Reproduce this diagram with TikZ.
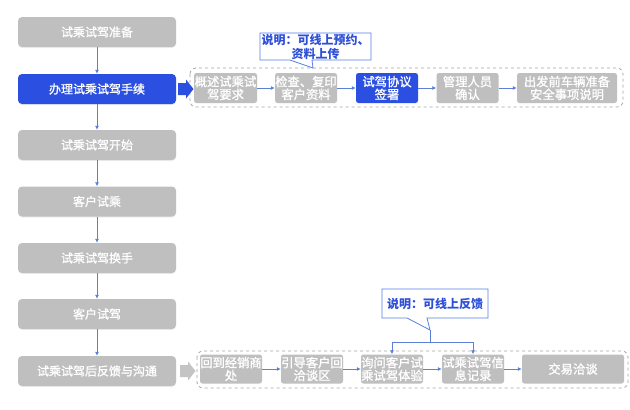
\documentclass[tikz,border=0pt]{standalone}
\usepackage{fontspec}
\setmainfont{Noto Sans CJK SC}
\newfontfamily\boxfont[FakeBold=1.2]{Noto Sans CJK SC}
\usetikzlibrary{arrows.meta,shadows}
\definecolor{boxgrey}{HTML}{BFBFBF}
\definecolor{boxblue}{HTML}{2B4FE0}
\definecolor{linkblue}{HTML}{5B80D6}
\definecolor{noteblue}{HTML}{2E4FD8}
\definecolor{noteedge}{HTML}{5A7FE6}
\definecolor{dashgrey}{HTML}{A6A6A6}
\definecolor{arrowgrey}{HTML}{C4C4C4}
\tikzset{
  lbox/.style={rectangle, rounded corners=4pt, fill=boxgrey, text=white,
    minimum width=158pt, minimum height=30pt, inner sep=0pt,
    font=\boxfont\fontsize{12pt}{13pt}\selectfont,
    drop shadow={shadow xshift=0pt, shadow yshift=-1pt, opacity=0.12}},
  ibox/.style={rectangle, rounded corners=2.5pt, fill=boxgrey, text=white,
    minimum height=30pt, inner sep=0pt, align=center,
    font=\boxfont\fontsize{12.3pt}{12.8pt}\selectfont},
  arr/.style={draw=linkblue, line width=0.8pt, -{Latex[length=4pt,width=4pt]}},
  link/.style={draw=linkblue, line width=0.8pt},
  group/.style={draw=dashgrey, dashed, line width=0.8pt, rounded corners=6pt, fill=white},
  note/.style={draw=noteedge, line width=0.8pt, fill=white},
  notetext/.style={text=noteblue, align=center, inner sep=0pt,
    font=\bfseries\fontsize{12pt}{14pt}\selectfont}
}
\begin{document}
\begin{tikzpicture}[x=1pt,y=-1pt]
\useasboundingbox (0,0) rectangle (630,410);
\fill[white] (0,0) rectangle (630,410);

% left column
\node[lbox] (L1) at (97,32) {试乘试驾准备};
\node[lbox, fill=boxblue] (L2) at (97,89) {办理试乘试驾手续};
\node[lbox] (L3) at (97,145) {试乘试驾开始};
\node[lbox] (L4) at (97,201.5) {客户试乘};
\node[lbox] (L5) at (97,258) {试乘试驾换手};
\node[lbox] (L6) at (97,314) {客户试驾};
\node[lbox] (L7) at (97,371) {试乘试驾后反馈与沟通};

\draw[arr] (L1) -- (L2);
\draw[arr] (L2) -- (L3);
\draw[arr] (L3) -- (L4);
\draw[arr] (L4) -- (L5);
\draw[arr] (L5) -- (L6);
\draw[arr] (L6) -- (L7);

% group containers
\draw[group] (190,68) rectangle (623,107);
\draw[group] (197,351) rectangle (628,388);

% block arrows
\fill[boxblue] (178,83) -- (186,83) -- (186,79.5) -- (193.5,89) -- (186,98.5) -- (186,95) -- (178,95) -- cycle;
\fill[arrowgrey] (180,365) -- (188,365) -- (188,361.5) -- (195.5,371) -- (188,380.5) -- (188,377) -- (180,377) -- cycle;

% row 1
\node[ibox, minimum width=63pt] (A1) at (225.5,88) {概述试乘试\\驾要求};
\node[ibox, minimum width=62pt] (A2) at (306,88) {检查、复印\\客户资料};
\node[ibox, minimum width=62pt, fill=boxblue] (A3) at (387,88) {试驾协议\\签署};
\node[ibox, minimum width=62pt] (A4) at (467.5,88) {管理人员\\确认};
\node[ibox, minimum width=100pt] (A5) at (567,88) {出发前车辆准备\\安全事项说明};
\draw[arr] (A1) -- (A2);
\draw[arr] (A2) -- (A3);
\draw[arr] (A3) -- (A4);
\draw[arr] (A4) -- (A5);

% row 2
\node[ibox, minimum width=62pt, minimum height=29pt] (B1) at (231,369) {回到经销商\\处};
\node[ibox, minimum width=62pt, minimum height=29pt] (B2) at (312,369) {引导客户回\\洽谈区};
\node[ibox, minimum width=62pt, minimum height=29pt] (B3) at (392,369) {询问客户试\\乘试驾体验};
\node[ibox, minimum width=62pt, minimum height=29pt] (B4) at (473,369) {试乘试驾信\\息记录};
\node[ibox, minimum width=102pt, minimum height=29pt] (B5) at (573,369) {交易洽谈};
\draw[arr] (B1) -- (B2);
\draw[arr] (B2) -- (B3);
\draw[arr] (B3) -- (B4);
\draw[arr] (B4) -- (B5);

% callout 1
\coordinate (t1) at (313,68);
\draw[note] (260,33) -- (371,33) -- (371,60) -- (312,60) -- (t1) -- (290,60) -- (260,60) -- cycle;
\node[notetext] (N1) at (315.5,46.5) {说明：可线上预约、\\资料上传};

% callout 2
\coordinate (t2) at (430,330);
\coordinate (j2) at (430,342);
\draw[note] (382,289) -- (488,289) -- (488,318) -- (427,318) -- (t2) -- (407,318) -- (382,318) -- cycle;
\node[notetext] (N2) at (435,303.5) {说明：可线上反馈};
\draw[link] (t2) -- (j2);
\draw[arr] (j2) -| (B3.north);
\draw[arr] (j2) -| (B4.north);
\end{tikzpicture}
\end{document}
